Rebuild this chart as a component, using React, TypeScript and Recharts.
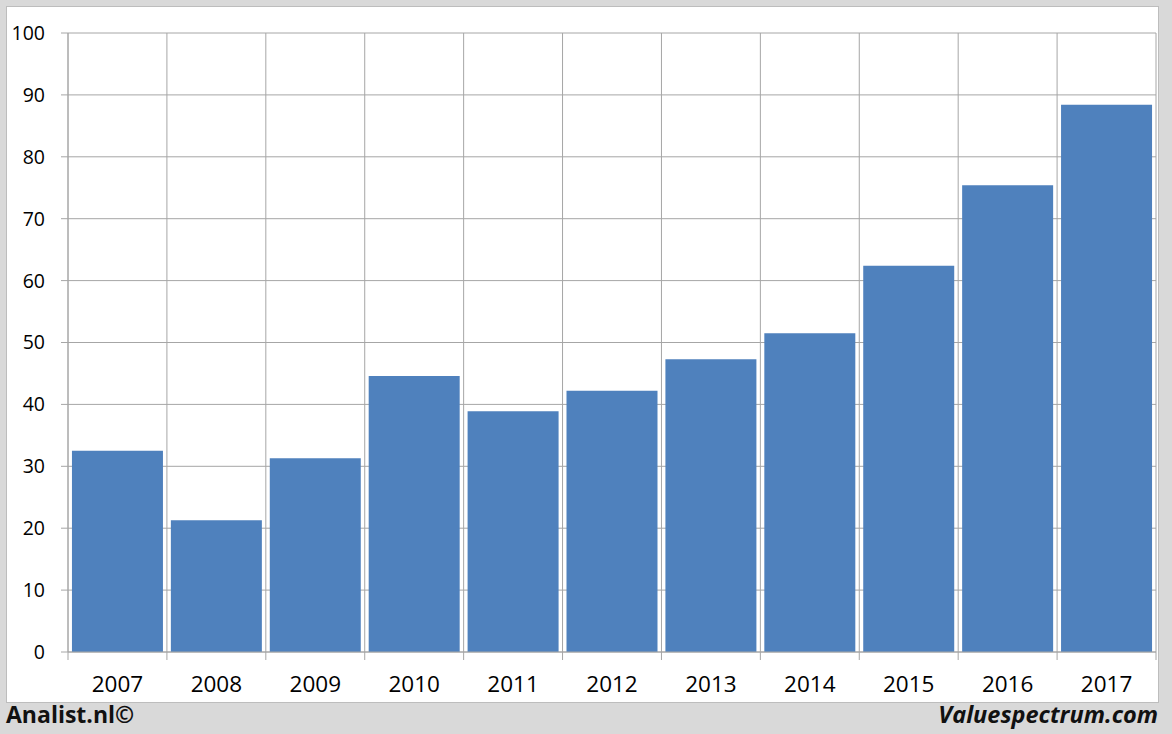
import React from "react";
import { ComposedChart, Bar, XAxis, YAxis, CartesianGrid } from "recharts";

const years = ["2007", "2008", "2009", "2010", "2011", "2012", "2013", "2014", "2015", "2016", "2017"];
const values = [32.5, 21.3, 31.3, 44.6, 38.9, 42.2, 47.3, 51.5, 62.4, 75.4, 88.4];
const yTicks = [0, 10, 20, 30, 40, 50, 60, 70, 80, 90, 100];

const data = years.map((y, i) => ({ year: y, value: values[i] }));

const GRID = "#a6a6a6";
const FONT = "'Open Sans', sans-serif";
const TICK_SIZE = 8;

const XTick = (props: any) => {
  const { x, y, payload, width, visibleTicksCount, index } = props;
  const half = payload && payload.offset != null ? payload.offset : width / visibleTicksCount / 2;
  const lx = x - half;
  const rx = x + half;
  const last = index === visibleTicksCount - 1;
  return (
    <g>
      <line x1={lx} x2={lx} y1={y - TICK_SIZE} y2={y} stroke={GRID} strokeWidth={1} />
      {last && <line x1={rx} x2={rx} y1={y - TICK_SIZE} y2={y} stroke={GRID} strokeWidth={1} />}
      <text x={x} y={y + 32} textAnchor="middle" fill="#000" fontSize={22.5} fontFamily={FONT}>
        {payload.value}
      </text>
    </g>
  );
};

export default function App() {
  return (
    <div style={{ position: "absolute", left: 0, top: 0, width: 1172, height: 734, background: "#d9d9d9", overflow: "hidden" }}>
      <div
        style={{
          position: "absolute",
          left: 6,
          top: 6,
          width: 1151,
          height: 695,
          background: "#fff",
          border: "1px solid #bdbdbd",
        }}
      />
      <div style={{ position: "absolute", left: 0, top: 0 }}>
        <ComposedChart
          width={1172}
          height={734}
          data={data}
          margin={{ top: 33, right: 16, left: 0, bottom: 0 }}
          barCategoryGap="4%"
        >
          <CartesianGrid
            stroke={GRID}
            strokeWidth={1}
            verticalCoordinatesGenerator={({ offset }: any) =>
              Array.from({ length: years.length + 1 }, (_, i) => offset.left + (i * offset.width) / years.length)
            }
          />
          <XAxis
            dataKey="year"
            height={82}
            tickLine={false}
            tickSize={TICK_SIZE}
            tickMargin={0}
            axisLine={{ stroke: GRID }}
            tick={<XTick />}
            interval={0}
          />
          <YAxis
            width={68}
            domain={[0, 100]}
            ticks={yTicks}
            tickSize={7}
            tickMargin={16}
            axisLine={{ stroke: GRID }}
            tickLine={{ stroke: GRID }}
            tick={{ fill: "#000", fontSize: 19.5, fontFamily: FONT }}
            interval={0}
          />
          <Bar dataKey="value" fill="#4f81bd" isAnimationActive={false} />
        </ComposedChart>
      </div>
      <div
        style={{
          position: "absolute",
          left: 6,
          top: 703,
          fontFamily: FONT,
          fontWeight: 700,
          fontSize: 23,
          lineHeight: "22px",
          color: "#111",
        }}
      >
        Analist.nl©
      </div>
      <div
        style={{
          position: "absolute",
          right: 14,
          top: 703,
          fontFamily: FONT,
          fontWeight: 700,
          fontStyle: "italic",
          fontSize: 23.5,
          lineHeight: "22px",
          color: "#111",
        }}
      >
        Valuespectrum.com
      </div>
    </div>
  );
}
